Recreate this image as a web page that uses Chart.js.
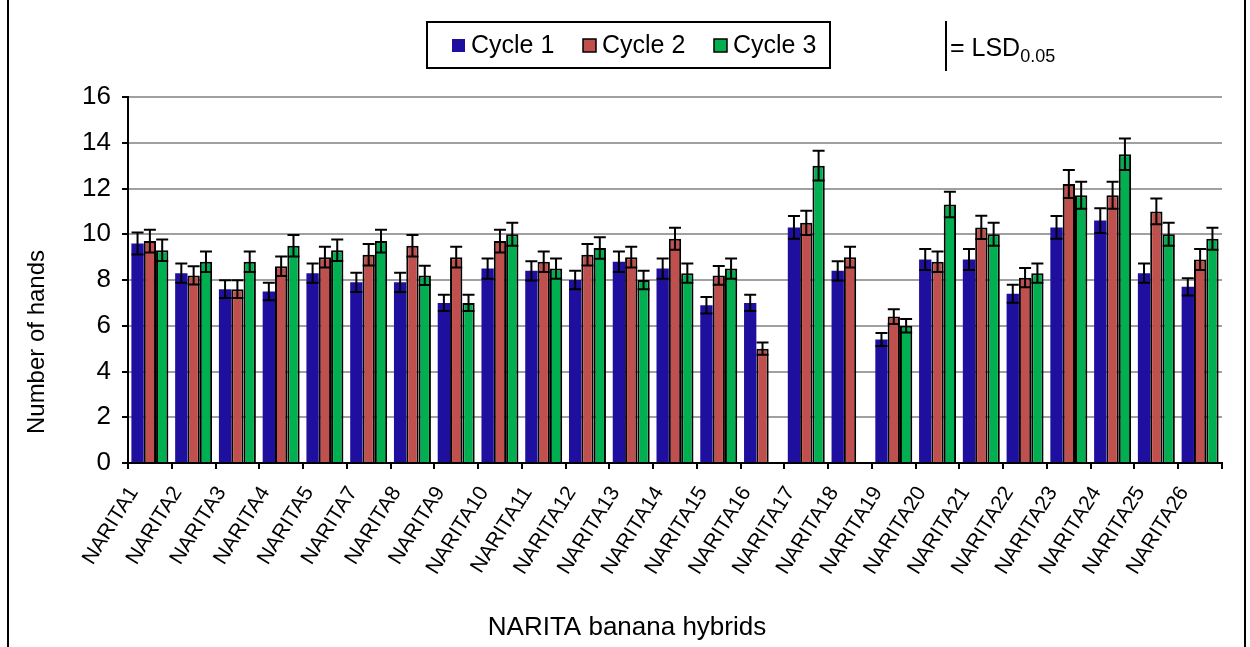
<!DOCTYPE html>
<html><head><meta charset="utf-8">
<script src="https://cdn.jsdelivr.net/npm/chart.js@4"></script>
<style>html,body{margin:0;padding:0;background:#fff}#wrap{width:1250px;height:647px;position:relative}</style>
</head><body><div id="wrap"><canvas id="c" width="1250" height="647"></canvas></div>
<script>
const categories = ['NARITA1','NARITA2','NARITA3','NARITA4','NARITA5','NARITA7','NARITA8','NARITA9','NARITA10','NARITA11','NARITA12','NARITA13','NARITA14','NARITA15','NARITA16','NARITA17','NARITA18','NARITA19','NARITA20','NARITA21','NARITA22','NARITA23','NARITA24','NARITA25','NARITA26'];
const seriesNames = ['Cycle 1','Cycle 2','Cycle 3'];
const cycle1 = [9.6,8.3,7.6,7.5,8.3,7.9,7.9,7.0,8.5,8.4,8.0,8.8,8.5,6.9,7.0,10.3,8.4,5.4,8.9,8.9,7.4,10.3,10.6,8.3,7.7];
const cycle2 = [9.7,8.2,7.6,8.6,9.0,9.1,9.5,9.0,9.7,8.8,9.1,9.0,9.8,8.2,5.0,10.5,9.0,6.4,8.8,10.3,8.1,12.2,11.7,11.0,8.9];
const cycle3 = [9.3,8.8,8.8,9.5,9.3,9.7,8.2,7.0,10.0,8.5,9.4,8.0,8.3,8.5,null,13.0,null,6.0,11.3,10.0,8.3,11.7,13.5,10.0,9.8];
const err1 = [0.48,0.42,0.39,0.38,0.42,0.42,0.42,0.36,0.44,0.42,0.40,0.45,0.44,0.36,0.36,0.50,0.42,0.28,0.46,0.46,0.39,0.50,0.54,0.42,0.38];
const err2 = [0.50,0.40,0.39,0.43,0.45,0.47,0.47,0.45,0.50,0.45,0.47,0.45,0.48,0.41,0.27,0.53,0.45,0.32,0.45,0.51,0.42,0.61,0.59,0.56,0.46];
const err3 = [0.47,0.45,0.45,0.47,0.47,0.50,0.42,0.36,0.50,0.44,0.47,0.40,0.42,0.44,null,0.65,null,0.29,0.56,0.50,0.42,0.59,0.69,0.50,0.48];
const yTicks = [0,2,4,6,8,10,12,14,16];
const xTitle = 'NARITA banana hybrids';
const yTitle = 'Number of hands';
const lsdLabel = '= LSD';
const lsdSub = '0.05';

const colors = ['#1f0f9f','#c0504d','#00b050'];
const FONT = '"Liberation Sans", Arial, sans-serif';

const errorBars = {
  id:'errorBars',
  afterDatasetsDraw(chart){
    const ctx = chart.ctx, y = chart.scales.y;
    chart.data.datasets.forEach((ds,i)=>{
      const meta = chart.getDatasetMeta(i);
      meta.data.forEach((bar,j)=>{
        const v = ds.data[j], e = ds.errors[j];
        if (v == null || e == null) return;
        const yt = y.getPixelForValue(v+e), yb = y.getPixelForValue(v-e);
        ctx.save();
        ctx.strokeStyle = '#000'; ctx.lineWidth = 2;
        ctx.beginPath();
        ctx.moveTo(bar.x, yt); ctx.lineTo(bar.x, yb);
        ctx.moveTo(bar.x-6, yt); ctx.lineTo(bar.x+6, yt);
        ctx.moveTo(bar.x-6, yb); ctx.lineTo(bar.x+6, yb);
        ctx.stroke();
        ctx.restore();
      });
    });
  }
};

const decor = {
  id:'decor',
  afterDraw(chart){
    const ctx = chart.ctx;
    ctx.save();
    // outer frame
    ctx.strokeStyle = '#000'; ctx.lineWidth = 2;
    ctx.beginPath();
    ctx.moveTo(8, 0); ctx.lineTo(8, 647);
    ctx.moveTo(1245, 0); ctx.lineTo(1245, 647);
    ctx.stroke();
    // axis titles
    ctx.fillStyle = '#000';
    ctx.textAlign = 'center'; ctx.textBaseline = 'middle';
    ctx.font = '26px ' + FONT;
    ctx.fillText(xTitle, 627, 628);
    ctx.save();
    ctx.translate(37, 342); ctx.rotate(-Math.PI/2);
    ctx.font = '24px ' + FONT;
    ctx.fillText(yTitle, 0, 0);
    ctx.restore();
    // legend box
    ctx.textAlign = 'left';
    ctx.lineWidth = 2;
    ctx.strokeRect(427, 22, 403, 46);
    ctx.font = '25px ' + FONT;
    ctx.textBaseline = 'middle';
    const sx = [452, 583, 714], tx = [471, 602, 733];
    chart.data.datasets.forEach((ds,i)=>{
      ctx.fillStyle = ds.backgroundColor;
      ctx.fillRect(sx[i], 39, 13, 13);
      if (ds.borderWidth) { ctx.strokeStyle='#000'; ctx.lineWidth=1.5; ctx.strokeRect(sx[i], 39, 13, 13); }
      ctx.fillStyle = '#000';
      ctx.fillText(ds.label, tx[i], 46);
    });
    // LSD marker
    ctx.lineWidth = 2; ctx.strokeStyle = '#000';
    ctx.beginPath(); ctx.moveTo(946, 21); ctx.lineTo(946, 71); ctx.stroke();
    ctx.textBaseline = 'alphabetic';
    ctx.font = '25px ' + FONT;
    ctx.fillText(lsdLabel, 950, 56);
    const w = ctx.measureText(lsdLabel).width;
    ctx.font = '18px ' + FONT;
    ctx.fillText(lsdSub, 950 + w, 62);
    ctx.restore();
  }
};

const datasets = [cycle1, cycle2, cycle3].map((d,i)=>({
  label: seriesNames[i],
  data: d,
  errors: [err1, err2, err3][i],
  backgroundColor: colors[i],
  borderColor: '#000',
  borderWidth: i === 0 ? 0 : 2,
  categoryPercentage: 0.845,
  barPercentage: 1.0
}));

new Chart(document.getElementById('c'), {
  type: 'bar',
  data: { labels: categories, datasets },
  options: {
    responsive: false,
    animation: false,
    devicePixelRatio: 1,
    layout: { padding: { left: 8, right: 28, top: 97, bottom: 0 } },
    plugins: { legend: { display: false }, tooltip: { enabled: false } },
    scales: {
      x: {
        afterFit: s => { s.height = 184; },
        grid: { drawOnChartArea: false, offset: true, tickLength: 6, color: '#000', lineWidth: 2 },
        border: { color: '#000', width: 2 },
        ticks: { color: '#000', font: { family: FONT, size: 21 }, minRotation: 58, maxRotation: 58, autoSkip: false, padding: 13, labelOffset: -16 }
      },
      y: {
        min: 0, max: 16,
        afterFit: s => { s.width = 120; },
        afterBuildTicks: s => { s.ticks = yTicks.map(v => ({ value: v })); },
        grid: { color: ctx => ctx.tick && ctx.tick.value === 0 ? 'rgba(0,0,0,0)' : '#a0a0a0', tickColor: '#000', lineWidth: 2, tickLength: 6 },
        border: { color: '#000', width: 2 },
        ticks: { color: '#000', font: { family: FONT, size: 26 }, padding: 11 }
      }
    }
  },
  plugins: [errorBars, decor]
});
</script></body></html>
